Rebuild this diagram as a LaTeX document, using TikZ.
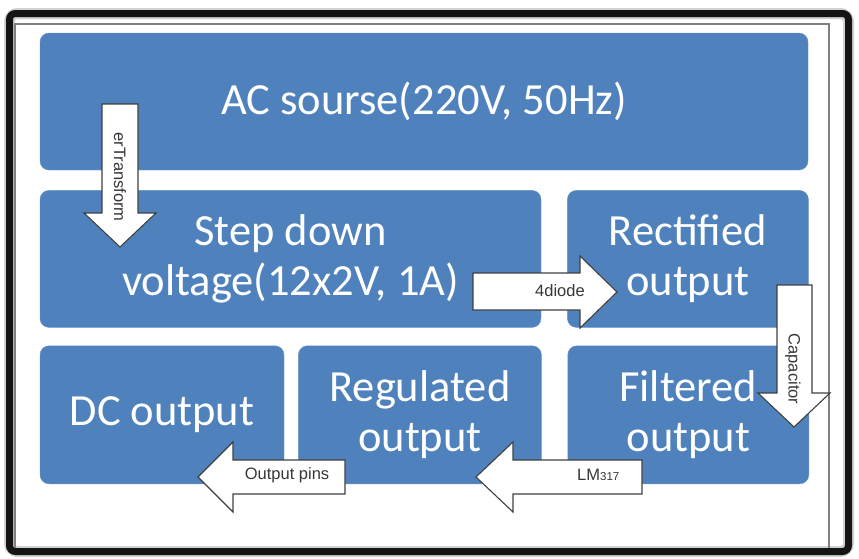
\documentclass[tikz,border=0pt]{standalone}
\usepackage{fontspec}
\setmainfont{Carlito}
\newfontfamily\arrfont{Liberation Sans}
\usepackage{xcolor}
\usetikzlibrary{positioning}
\definecolor{boxblue}{RGB}{79,129,189}
\definecolor{lblgray}{RGB}{55,55,55}

\begin{document}
\begin{tikzpicture}[
   x=1pt,y=-1pt,
   blk/.style={fill=boxblue,draw=boxblue!85!white,rounded corners=9pt,align=center,
               minimum height=137pt,inner sep=0pt,text=white,
               font=\fontsize{44.5}{50}\selectfont},
   barrow/.style={draw=black!75,fill=white,line width=1.1pt,line join=miter},
   lbl/.style={font=\arrfont\fontsize{16.5}{18}\selectfont,text=lblgray,inner sep=0pt}
  ]
  \useasboundingbox (0,0) rectangle (859,558);

  % frame round the slide
  \draw[black!18,line width=11pt,rounded corners=8pt] (9.5,13.5) rectangle (848.5,551.5);
  \draw[black!92,line width=7pt,rounded corners=6pt] (9.5,13.5) rectangle (848.5,551.5);
  \draw[black!50,line width=1.3pt] (15,548) -- (15,24) -- (829,24) -- (829,548);

  % blocks
  \node[blk,minimum width=768pt] (ac) at (424,101.5) {AC sourse(220V, 50Hz)};
  \node[blk,minimum width=501pt,below right=20pt and 0pt of ac.south west] (step)
        {Step down\\voltage(12x2V, 1A)};
  \node[blk,minimum width=241pt,right=26pt of step] (rect) {Rectified\\output};
  \node[blk,minimum width=244pt,minimum height=138pt,
        below right=18pt and 0pt of step.south west] (dc) {DC output};
  \node[blk,minimum width=243pt,minimum height=138pt,right=14pt of dc] (reg)
        {Regulated\\output};
  \node[blk,minimum width=241pt,minimum height=138pt,right=26pt of reg] (filt)
        {Filtered\\output};

  % block arrows
  \draw[barrow] (102,104) -- (138,104) -- (138,213) -- (156,213) -- (120,247)
        -- (84,213) -- (102,213) -- cycle;
  \draw[barrow] (473,273) -- (580,273) -- (580,256) -- (617,292) -- (580,328)
        -- (580,310) -- (473,310) -- cycle;
  \draw[barrow] (777,285) -- (812,285) -- (812,393) -- (830,393) -- (794,427)
        -- (758,393) -- (777,393) -- cycle;
  \draw[barrow] (345,460) -- (233,460) -- (233,442) -- (198,477) -- (233,512)
        -- (233,494) -- (345,494) -- cycle;
  \draw[barrow] (642,460) -- (513,460) -- (513,442) -- (476,477) -- (513,512)
        -- (513,494) -- (642,494) -- cycle;

  % arrow labels
  \node[lbl,rotate=-90] (trf) at (120,177) {erTransform};
  \node[lbl] (dio) at (560,291) {4diode};
  \node[lbl,rotate=-90] (cap) at (793,369) {Capacitor};
  \node[lbl,anchor=base] (pins) at (287,479) {Output pins};
  \node[lbl,anchor=base west] (lm) at (577,480) {LM{\fontsize{11.5}{12}\selectfont 317}};
\end{tikzpicture}
\end{document}
